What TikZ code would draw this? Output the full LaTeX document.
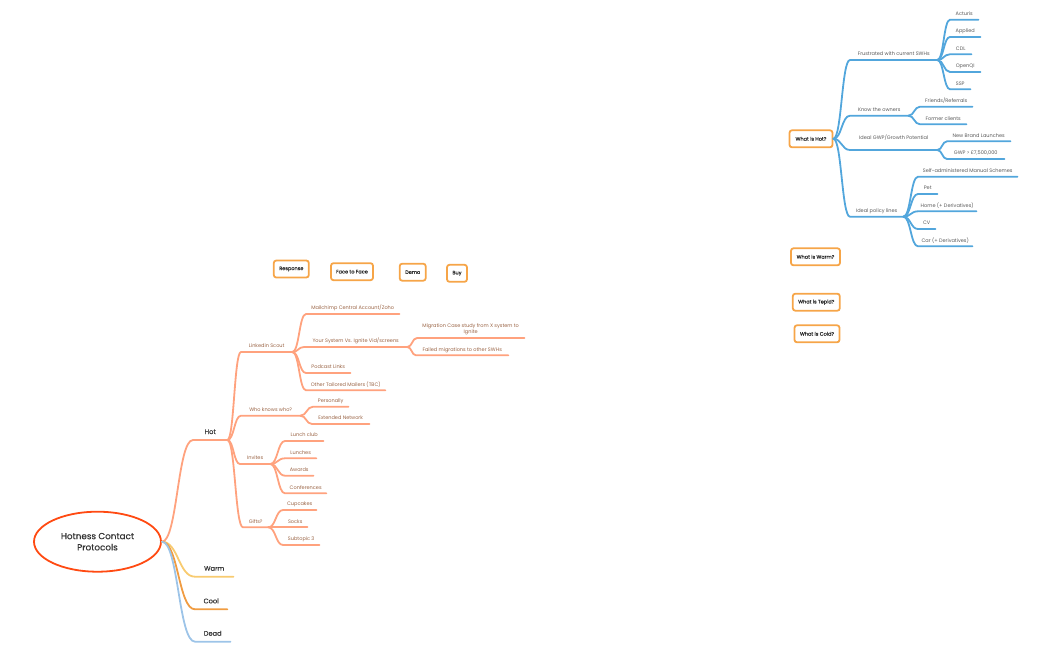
\documentclass[tikz,border=0pt]{standalone}
\usepackage{fontspec}
\setmainfont{Poppins}
\newfontfamily\heavyfont[FakeBold=0.3]{Poppins}
\newfontfamily\tagfont[FakeBold=0.1]{Poppins}
\usetikzlibrary{shapes,calc}
\definecolor{hotc}{HTML}{FFA27E}
\definecolor{warmc}{HTML}{F8CB70}
\definecolor{coolc}{HTML}{F09C42}
\definecolor{deadc}{HTML}{9DC4E8}
\definecolor{bluec}{HTML}{52A6DC}
\definecolor{boxc}{HTML}{F6A548}
\definecolor{rootc}{HTML}{FF4A12}
\tikzset{
  fork/.style={to path={let \p1=(\tikztostart),\p2=(\tikztotarget) in
    .. controls ({.5*\x1+.5*\x2},\y1) and ({.5*\x1+.5*\x2},\y2) .. (\tikztotarget)}},
  line/.style={fork,line width=1.8pt,line cap=round},
  hotline/.style={line,draw=hotc},
  blueline/.style={line,draw=bluec},
  topic/.style={anchor=south west,inner xsep=0pt,inner ysep=2.5pt,text depth=1.4pt,align=center,font=\fontsize{5}{6.8}\selectfont},
  hottopic/.style={topic,text=black!45!hotc!75!brown},
  bluetopic/.style={topic,text=black!65},
  main/.style={topic,inner ysep=4.4pt,text=black!80,font=\tagfont\fontsize{6.6}{8}\selectfont},
  tag/.style={draw=boxc,line width=1.8pt,rounded corners=2.5pt,inner sep=0pt,text=black!85,font=\tagfont\fontsize{5}{6}\selectfont}
}
\begin{document}
\begin{tikzpicture}[x=1pt,y=-1pt]
\useasboundingbox (0,0) rectangle (1050,651);
\node (root) at (97.5,541.7) [ellipse,draw=rootc,line width=1.8pt,minimum width=127pt,minimum height=60pt,inner sep=0pt,align=center,text=black!80,font=\heavyfont\fontsize{8.8}{11.2}\selectfont] {Hotness Contact\\Protocols};

\node (hot) at (193,440) [main,minimum width=34pt] {Hot};
\node (warm) at (195,576.7) [main,minimum width=38pt] {Warm};
\node (cool) at (195,609.3) [main,minimum width=32pt] {Cool};
\node (dead) at (195,641.7) [main,minimum width=35pt] {Dead};

\node (scout) at (241,352) [hottopic,minimum width=51pt] {Linkedin Scout};
\node (who) at (241,415.7) [hottopic,minimum width=59pt] {Who knows who?};
\node (invites) at (240,464) [hottopic,minimum width=30pt] {Invites};
\node (gifts) at (243,527.3) [hottopic,minimum width=25pt] {Gifts?};

\node (mail) at (306,314) [hottopic,minimum width=93pt] {Mailchimp Central Account/Zoho};
\node (system) at (304,347) [hottopic,minimum width=103pt] {Your System Vs. Ignite Vid/screens};
\node (podcast) at (306,373) [hottopic,minimum width=44pt] {Podcast Links};
\node (mailers) at (306,390.3) [hottopic,minimum width=79pt] {Other Tailored Mailers (TBC)};
\node (case) at (417,338) [hottopic,minimum width=107pt] {Migration Case study from X system to\\Ignite};
\node (failed) at (416,355.3) [hottopic,minimum width=92pt] {Failed migrations to other SWHs};
\node (person) at (313,406.7) [hottopic,minimum width=35pt] {Personally};
\node (network) at (312,424) [hottopic,minimum width=57pt] {Extended Network};
\node (club) at (285,441) [hottopic,minimum width=38pt] {Lunch club};
\node (lunches) at (285,458.3) [hottopic,minimum width=31pt] {Lunches};
\node (awards) at (285,475.7) [hottopic,minimum width=28pt] {Awards};
\node (conf) at (285,493.3) [hottopic,minimum width=41pt] {Conferences};
\node (cakes) at (283,510) [hottopic,minimum width=33pt] {Cupcakes};
\node (socks) at (283,527.3) [hottopic,minimum width=24pt] {Socks};
\node (sub) at (283,545) [hottopic,minimum width=36pt] {Subtopic 3};

\node (response) at (291.3,269) [tag,minimum width=35pt,minimum height=17pt] {Response};
\node (face) at (352,271.7) [tag,minimum width=42pt,minimum height=17pt] {Face to Face};
\node (demo) at (412.7,272.2) [tag,minimum width=26pt,minimum height=17pt] {Demo};
\node (buy) at (457,273.3) [tag,minimum width=20pt,minimum height=17pt] {Buy};

\node (wishot) at (811,138.8) [tag,minimum width=43pt,minimum height=17pt] {What is Hot?};
\node (iswarm) at (815.5,256.8) [tag,minimum width=49pt,minimum height=17pt] {What is Warm?};
\node (istepid) at (816.3,302.2) [tag,minimum width=47pt,minimum height=17pt] {What is Tepid?};
\node (iscold) at (817,333.8) [tag,minimum width=45pt,minimum height=17pt] {What is Cold?};

\node (frust) at (850,60) [bluetopic,minimum width=87pt] {Frustrated with current SWHs};
\node (owners) at (850,115.7) [bluetopic,minimum width=58pt] {Know the owners};
\node (growth) at (850,150) [bluetopic,minimum width=87pt,inner ysep=8.6pt] {Ideal GWP/Growth Potential};
\node (policy) at (850,216.7) [bluetopic,minimum width=53pt] {Ideal policy lines};
\node (acturis) at (950,19.7) [bluetopic,minimum width=28pt] {Acturis};
\node (applied) at (950,37) [bluetopic,minimum width=30pt] {Applied};
\node (cdl) at (950,54.3) [bluetopic,minimum width=21pt] {CDL};
\node (openqi) at (950,72) [bluetopic,minimum width=30pt] {OpenQI};
\node (ssp) at (950,89.3) [bluetopic,minimum width=20pt] {SSP};
\node (friends) at (920,106.7) [bluetopic,minimum width=52pt] {Friends/Referrals};
\node (former) at (920,124.3) [bluetopic,minimum width=46pt] {Former clients};
\node (brand) at (947,141.3) [bluetopic,minimum width=63pt] {New Brand Launches};
\node (gwp) at (947,159) [bluetopic,minimum width=57pt] {GWP > £7,500,000};
\node (self) at (918,176.7) [bluetopic,minimum width=99pt] {Self-administered Manual Schemes};
\node (pet) at (918,194) [bluetopic,minimum width=19pt] {Pet};
\node (home) at (918,211.3) [bluetopic,minimum width=58pt] {Home (+ Derivatives)};
\node (cv) at (918,229) [bluetopic,minimum width=17pt] {CV};
\node (car) at (918,246.3) [bluetopic,minimum width=54pt] {Car (+ Derivatives)};

\draw [hotline] (root.east) to (hot.south west) -- (hot.south east);
\draw [line,draw=warmc] (root.east) to (warm.south west) -- (warm.south east);
\draw [line,draw=coolc] (root.east) to (cool.south west) -- (cool.south east);
\draw [line,draw=deadc] (root.east) to (dead.south west) -- (dead.south east);

\draw [hotline] (hot.south east) to (scout.south west) -- (scout.south east);
\draw [hotline] (hot.south east) to (who.south west) -- (who.south east);
\draw [hotline] (hot.south east) to (invites.south west) -- (invites.south east);
\draw [hotline] (hot.south east) to (gifts.south west) -- (gifts.south east);
\draw [hotline] (scout.south east) to (mail.south west) -- (mail.south east);
\draw [hotline] (scout.south east) to (system.south west) -- (system.south east);
\draw [hotline] (scout.south east) to (podcast.south west) -- (podcast.south east);
\draw [hotline] (scout.south east) to (mailers.south west) -- (mailers.south east);
\draw [hotline] (system.south east) to (case.south west) -- (case.south east);
\draw [hotline] (system.south east) to (failed.south west) -- (failed.south east);
\draw [hotline] (who.south east) to (person.south west) -- (person.south east);
\draw [hotline] (who.south east) to (network.south west) -- (network.south east);
\draw [hotline] (invites.south east) to (club.south west) -- (club.south east);
\draw [hotline] (invites.south east) to (lunches.south west) -- (lunches.south east);
\draw [hotline] (invites.south east) to (awards.south west) -- (awards.south east);
\draw [hotline] (invites.south east) to (conf.south west) -- (conf.south east);
\draw [hotline] (gifts.south east) to (cakes.south west) -- (cakes.south east);
\draw [hotline] (gifts.south east) to (socks.south west) -- (socks.south east);
\draw [hotline] (gifts.south east) to (sub.south west) -- (sub.south east);

\draw [blueline] (wishot.east) to (frust.south west) -- (frust.south east);
\draw [blueline] (wishot.east) to (owners.south west) -- (owners.south east);
\draw [blueline] (wishot.east) to (growth.south west) -- (growth.south east);
\draw [blueline] (wishot.east) to (policy.south west) -- (policy.south east);
\draw [blueline] (frust.south east) to (acturis.south west) -- (acturis.south east);
\draw [blueline] (frust.south east) to (applied.south west) -- (applied.south east);
\draw [blueline] (frust.south east) to (cdl.south west) -- (cdl.south east);
\draw [blueline] (frust.south east) to (openqi.south west) -- (openqi.south east);
\draw [blueline] (frust.south east) to (ssp.south west) -- (ssp.south east);
\draw [blueline] (owners.south east) to (friends.south west) -- (friends.south east);
\draw [blueline] (owners.south east) to (former.south west) -- (former.south east);
\draw [blueline] (growth.south east) to (brand.south west) -- (brand.south east);
\draw [blueline] (growth.south east) to (gwp.south west) -- (gwp.south east);
\draw [blueline] (policy.south east) to (self.south west) -- (self.south east);
\draw [blueline] (policy.south east) to (pet.south west) -- (pet.south east);
\draw [blueline] (policy.south east) to (home.south west) -- (home.south east);
\draw [blueline] (policy.south east) to (cv.south west) -- (cv.south east);
\draw [blueline] (policy.south east) to (car.south west) -- (car.south east);
\end{tikzpicture}
\end{document}
